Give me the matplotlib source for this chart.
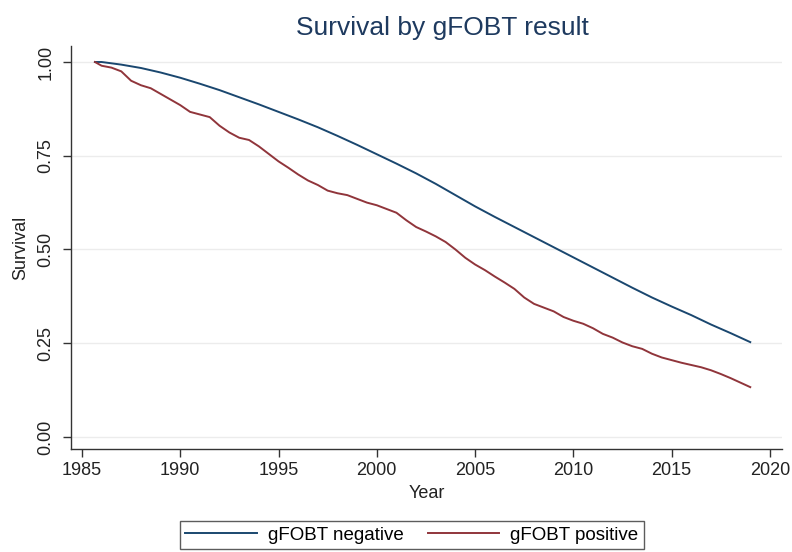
import numpy as np
import matplotlib.pyplot as plt

plt.rcParams['font.family'] = ['Liberation Sans', 'DejaVu Sans']

# Survival estimates
years_neg = [1985.66, 1986, 1987, 1988, 1989, 1990, 1991, 1992, 1993, 1994, 1995,
             1996, 1997, 1998, 1999, 2000, 2001, 2002, 2003, 2004, 2005, 2006,
             2007, 2008, 2009, 2010, 2011, 2012, 2013, 2014, 2015, 2016, 2017,
             2018, 2019]
surv_neg = [1.000, 1.000, 0.993, 0.984, 0.972, 0.958, 0.942, 0.925, 0.906, 0.887, 0.867,
            0.847, 0.826, 0.803, 0.779, 0.754, 0.729, 0.703, 0.675, 0.645, 0.615, 0.587,
            0.560, 0.533, 0.506, 0.479, 0.452, 0.425, 0.398, 0.372, 0.348, 0.325, 0.300,
            0.277, 0.253]

years_pos = [1985.66, 1986.0, 1986.5, 1987.0, 1987.5, 1988.0, 1988.5, 1989.0, 1989.5,
             1990.0, 1990.5, 1991.0, 1991.5, 1992.0, 1992.5, 1993.0, 1993.5, 1994.0,
             1994.5, 1995.0, 1995.5, 1996.0, 1996.5, 1997.0, 1997.5, 1998.0, 1998.5,
             1999.0, 1999.5, 2000.0, 2000.5, 2001.0, 2001.5, 2002.0, 2002.5, 2003.0,
             2003.5, 2004.0, 2004.5, 2005.0, 2005.5, 2006.0, 2006.5, 2007.0, 2007.5,
             2008.0, 2008.5, 2009.0, 2009.5, 2010.0, 2010.5, 2011.0, 2011.5, 2012.0,
             2012.5, 2013.0, 2013.5, 2014.0, 2014.5, 2015.0, 2015.5, 2016.0, 2016.5,
             2017.0, 2017.5, 2018.0, 2018.5, 2019.0]
surv_pos = [1.000, 0.990, 0.985, 0.975, 0.950, 0.938, 0.930, 0.915, 0.900,
            0.885, 0.867, 0.860, 0.853, 0.830, 0.812, 0.798, 0.792, 0.775,
            0.755, 0.735, 0.718, 0.700, 0.684, 0.672, 0.657, 0.650, 0.645,
            0.635, 0.625, 0.618, 0.608, 0.598, 0.578, 0.560, 0.548, 0.535,
            0.520, 0.500, 0.478, 0.460, 0.445, 0.428, 0.412, 0.395, 0.372,
            0.355, 0.345, 0.335, 0.320, 0.310, 0.302, 0.290, 0.275, 0.265,
            0.252, 0.242, 0.235, 0.222, 0.212, 0.205, 0.198, 0.192, 0.186,
            0.178, 0.168, 0.157, 0.145, 0.133]

x_ticks = [1985, 1990, 1995, 2000, 2005, 2010, 2015, 2020]
y_ticks = [0.00, 0.25, 0.50, 0.75, 1.00]

navy = '#1a476f'
maroon = '#90353b'

fig = plt.figure(figsize=(7.92, 5.52), dpi=100)
ax = fig.add_axes([0.0896, 0.1866, 0.8974, 0.7301])

ax.plot(years_neg, surv_neg, color=navy, lw=1.4, label='gFOBT negative')
ax.plot(years_pos, surv_pos, color=maroon, lw=1.4, label='gFOBT positive')

ax.set_xlim(1984.44, 2020.6)
ax.set_ylim(-0.032, 1.0427)
ax.set_xticks(x_ticks)
ax.set_yticks(y_ticks)
ax.set_yticklabels([f'{v:.2f}' for v in y_ticks], rotation=90, va='center')
ax.tick_params(labelsize=13, length=6, width=1, color='#333333', labelcolor='#222222')
ax.tick_params(axis='y', pad=6)

for v in y_ticks:
    ax.axhline(v, color='#ececec', lw=1, zorder=0)

for s in ['top', 'right']:
    ax.spines[s].set_visible(False)
for s in ['left', 'bottom']:
    ax.spines[s].set_color('#333333')
    ax.spines[s].set_linewidth(1)

ax.set_xlabel('Year', fontsize=13, color='#222222', labelpad=4)
ax.set_ylabel('Survival', fontsize=13, color='#222222', labelpad=6)

fig.text(442 / 792, 1 - 28 / 552, 'Survival by gFOBT result', fontsize=19,
         color='#1e3a5f', ha='center', va='center')

leg = fig.legend(loc='center', bbox_to_anchor=(412 / 792, 1 - 535 / 552), ncol=2,
                 fontsize=13.5, frameon=True, fancybox=False, handlelength=3.8,
                 handletextpad=0.6, columnspacing=1.3, borderpad=0.3)
leg.get_frame().set_edgecolor('#333333')
leg.get_frame().set_linewidth(1)

fig.savefig('out.png', dpi=100)
